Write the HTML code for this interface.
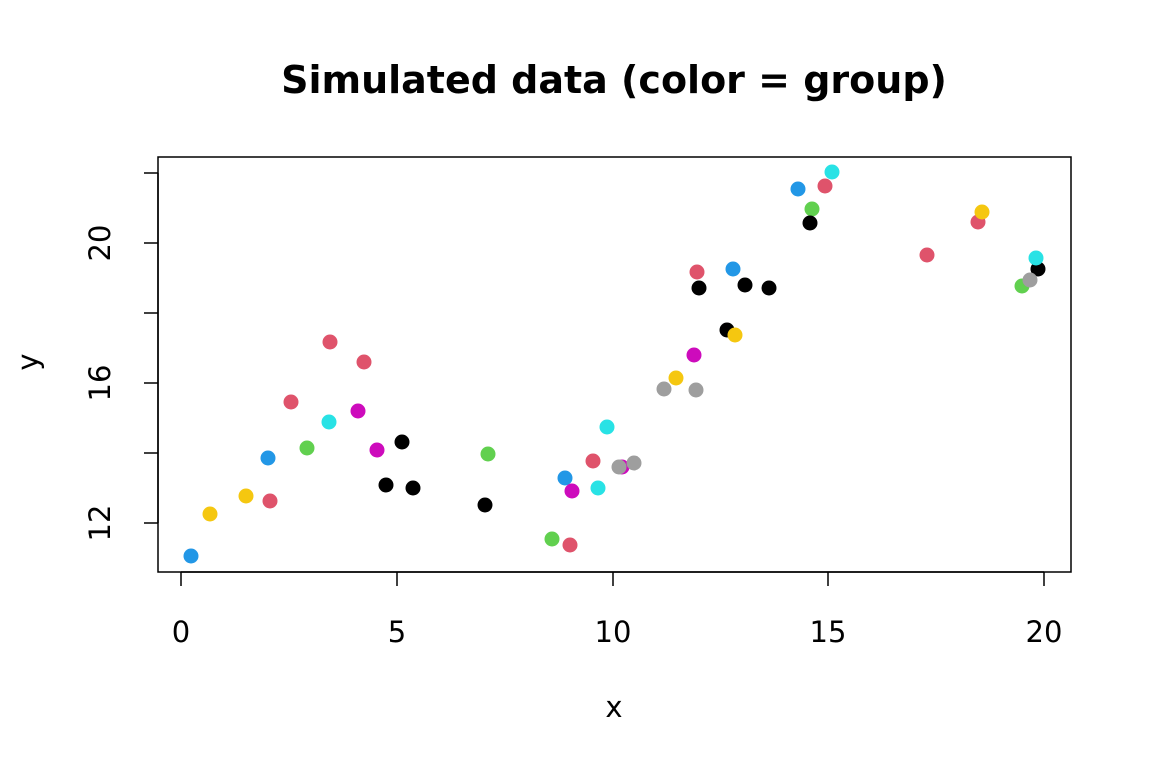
<!DOCTYPE html>
<html><head><meta charset="utf-8"><style>
html,body{margin:0;padding:0;background:#fff;}
svg{display:block;}
text{font-family:"DejaVu Sans","Liberation Sans",sans-serif;fill:#000;}
</style></head><body>
<svg width="1152" height="768" viewBox="0 0 1152 768" xmlns="http://www.w3.org/2000/svg">
<rect width="1152" height="768" fill="#fff"/>
<text x="614" y="93" font-size="38" font-weight="bold" text-anchor="middle">Simulated data (color = group)</text>
<rect x="158" y="157" width="913" height="415" fill="none" stroke="#000" stroke-width="1.5"/>
<g stroke="#000" stroke-width="1.5">
<line x1="181" y1="572" x2="1044" y2="572"/>
<line x1="181" y1="572" x2="181" y2="586"/><line x1="397" y1="572" x2="397" y2="586"/><line x1="613" y1="572" x2="613" y2="586"/><line x1="828" y1="572" x2="828" y2="586"/><line x1="1044" y1="572" x2="1044" y2="586"/>
<line x1="158" y1="173" x2="158" y2="523"/>
<line x1="144" y1="523" x2="158" y2="523"/><line x1="144" y1="453" x2="158" y2="453"/><line x1="144" y1="383" x2="158" y2="383"/><line x1="144" y1="313" x2="158" y2="313"/><line x1="144" y1="243" x2="158" y2="243"/><line x1="144" y1="173" x2="158" y2="173"/>
</g>
<g font-size="29" text-anchor="middle">
<text x="181" y="642">0</text><text x="397" y="642">5</text><text x="613" y="642">10</text><text x="828" y="642">15</text><text x="1044" y="642">20</text>
<text x="614" y="717">x</text>
<text transform="translate(110,523) rotate(-90)">12</text>
<text transform="translate(110,383) rotate(-90)">16</text>
<text transform="translate(110,243) rotate(-90)">20</text>
<text transform="translate(38,362) rotate(-90)">y</text>
</g>
<g>
<circle cx="191" cy="556" r="7.5" fill="#2297E6"/>
<circle cx="210" cy="514" r="7.5" fill="#F5C710"/>
<circle cx="246" cy="496" r="7.5" fill="#F5C710"/>
<circle cx="270" cy="501" r="7.5" fill="#DF536B"/>
<circle cx="268" cy="458" r="7.5" fill="#2297E6"/>
<circle cx="291" cy="402" r="7.5" fill="#DF536B"/>
<circle cx="307" cy="448" r="7.5" fill="#61D04F"/>
<circle cx="329" cy="422" r="7.5" fill="#28E2E5"/>
<circle cx="330" cy="342" r="7.5" fill="#DF536B"/>
<circle cx="358" cy="411" r="7.5" fill="#CD0BBC"/>
<circle cx="364" cy="362" r="7.5" fill="#DF536B"/>
<circle cx="377" cy="450" r="7.5" fill="#CD0BBC"/>
<circle cx="386" cy="485" r="7.5" fill="#000"/>
<circle cx="402" cy="442" r="7.5" fill="#000"/>
<circle cx="413" cy="488" r="7.5" fill="#000"/>
<circle cx="485" cy="505" r="7.5" fill="#000"/>
<circle cx="488" cy="454" r="7.5" fill="#61D04F"/>
<circle cx="552" cy="539" r="7.5" fill="#61D04F"/>
<circle cx="565" cy="478" r="7.5" fill="#2297E6"/>
<circle cx="570" cy="545" r="7.5" fill="#DF536B"/>
<circle cx="572" cy="491" r="7.5" fill="#CD0BBC"/>
<circle cx="593" cy="461" r="7.5" fill="#DF536B"/>
<circle cx="598" cy="488" r="7.5" fill="#28E2E5"/>
<circle cx="607" cy="427" r="7.5" fill="#28E2E5"/>
<circle cx="622" cy="467" r="7.5" fill="#CD0BBC"/>
<circle cx="619" cy="467" r="7.5" fill="#9E9E9E"/>
<circle cx="634" cy="463" r="7.5" fill="#9E9E9E"/>
<circle cx="664" cy="389" r="7.5" fill="#9E9E9E"/>
<circle cx="676" cy="378" r="7.5" fill="#F5C710"/>
<circle cx="694" cy="355" r="7.5" fill="#CD0BBC"/>
<circle cx="696" cy="390" r="7.5" fill="#9E9E9E"/>
<circle cx="697" cy="272" r="7.5" fill="#DF536B"/>
<circle cx="699" cy="288" r="7.5" fill="#000"/>
<circle cx="727" cy="330" r="7.5" fill="#000"/>
<circle cx="735" cy="335" r="7.5" fill="#F5C710"/>
<circle cx="733" cy="269" r="7.5" fill="#2297E6"/>
<circle cx="745" cy="285" r="7.5" fill="#000"/>
<circle cx="769" cy="288" r="7.5" fill="#000"/>
<circle cx="798" cy="189" r="7.5" fill="#2297E6"/>
<circle cx="812" cy="209" r="7.5" fill="#61D04F"/>
<circle cx="810" cy="223" r="7.5" fill="#000"/>
<circle cx="825" cy="186" r="7.5" fill="#DF536B"/>
<circle cx="832" cy="172" r="7.5" fill="#28E2E5"/>
<circle cx="927" cy="255" r="7.5" fill="#DF536B"/>
<circle cx="978" cy="222" r="7.5" fill="#DF536B"/>
<circle cx="982" cy="212" r="7.5" fill="#F5C710"/>
<circle cx="1022" cy="286" r="7.5" fill="#61D04F"/>
<circle cx="1038" cy="269" r="7.5" fill="#000"/>
<circle cx="1030" cy="280" r="7.5" fill="#9E9E9E"/>
<circle cx="1036" cy="258" r="7.5" fill="#28E2E5"/>
</g>
</svg>
</body></html>
